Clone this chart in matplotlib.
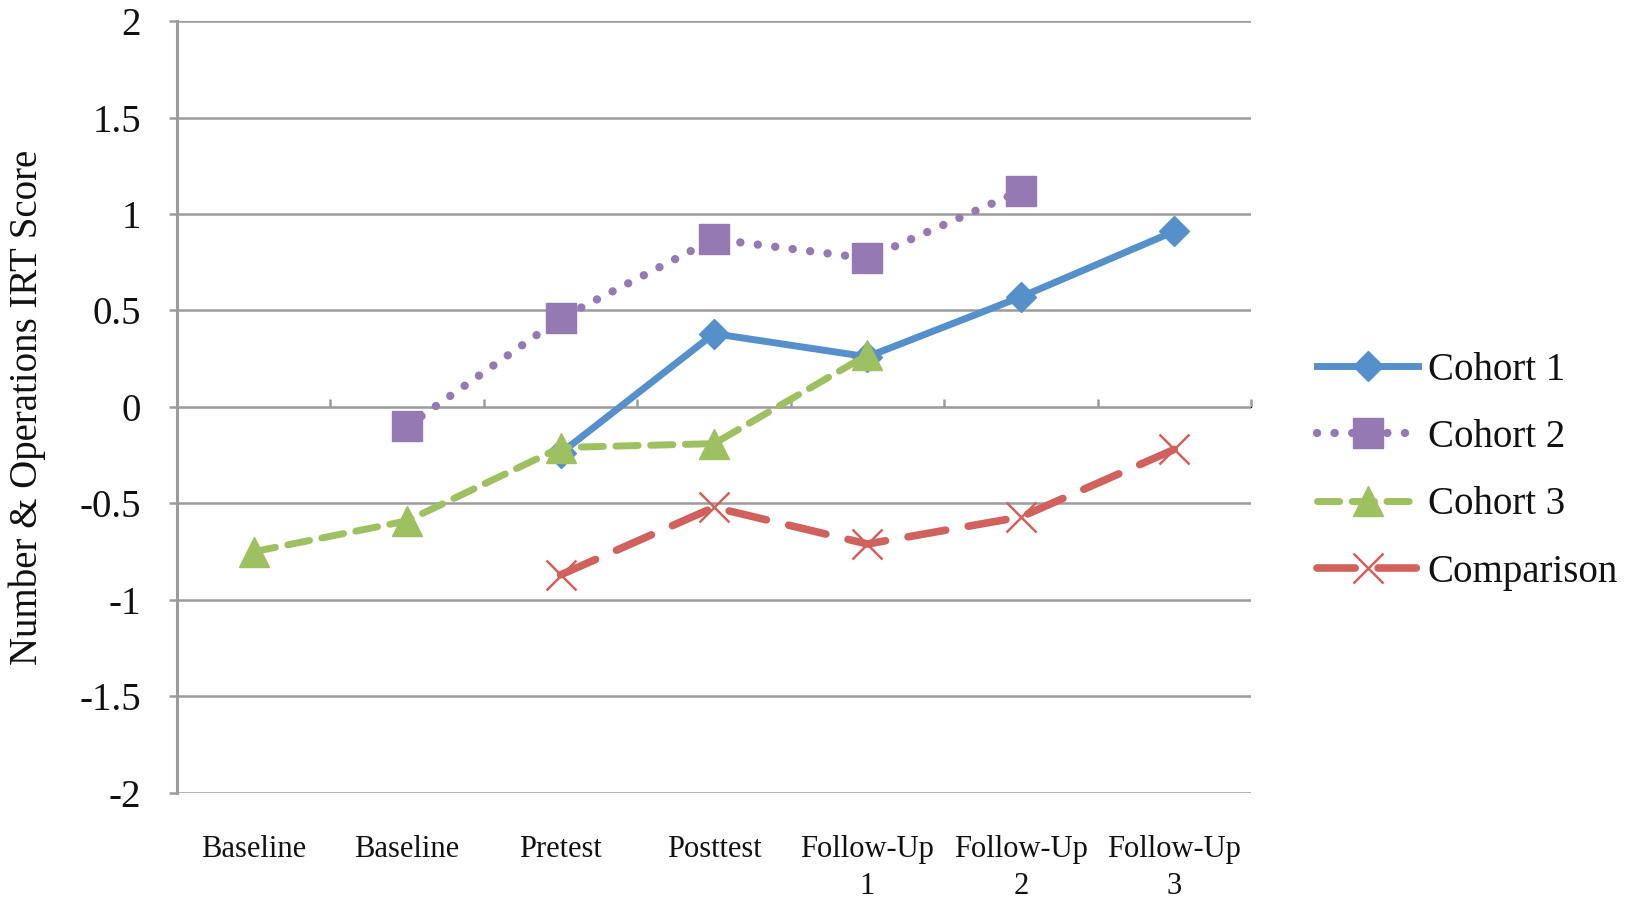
import matplotlib
matplotlib.use("Agg")
import matplotlib.pyplot as plt

plt.rcParams['font.family'] = ['Liberation Serif', 'DejaVu Serif']

# Time points and IRT scores per group (None = not measured)
timepoints = ["Baseline", "Baseline", "Pretest", "Posttest",
              "Follow-Up\n1", "Follow-Up\n2", "Follow-Up\n3"]
cohort1 = [None, None, -0.24, 0.38, 0.26, 0.57, 0.91]
cohort2 = [None, -0.10, 0.46, 0.87, 0.77, 1.12, None]
cohort3 = [-0.75, -0.59, -0.21, -0.19, 0.27, None, None]
comparison = [None, None, -0.87, -0.52, -0.71, -0.57, -0.22]
y_ticks = [-2, -1.5, -1, -0.5, 0, 0.5, 1, 1.5, 2]


def series(vals):
    xs = [i for i, v in enumerate(vals) if v is not None]
    ys = [v for v in vals if v is not None]
    return xs, ys


fig = plt.figure(figsize=(16.31, 8.99), dpi=100)
ax = fig.add_axes([0.1085, 0.118, 0.6585, 0.8586])

grid_col = '#9c9c9c'
ax.set_xlim(-0.5, len(timepoints) - 0.5)
ax.set_ylim(-2, 2)
ax.set_yticks(y_ticks)
ax.set_yticklabels([f"{t:g}" for t in y_ticks])
ax.yaxis.grid(True, color=grid_col, lw=1.8, zorder=0)
ax.set_axisbelow(True)
for s in ['top', 'right', 'bottom']:
    ax.spines[s].set_visible(False)
ax.spines['left'].set_color(grid_col)
ax.spines['left'].set_linewidth(2.2)
ax.tick_params(axis='y', length=6, width=1.8, color=grid_col,
               labelsize=28, pad=20, labelcolor='#111111')

ax.set_xticks(range(len(timepoints)))
ax.set_xticklabels(timepoints, linespacing=1.36)
ax.tick_params(axis='x', length=0, labelsize=22, pad=30, labelcolor='#111111')

# Category axis crossing at zero with ticks between categories
sec = ax.secondary_xaxis(0.5)
sec.set_xticks([i - 0.5 for i in range(len(timepoints) + 1)])
sec.set_xticklabels([])
sec.spines['bottom'].set_color(grid_col)
sec.spines['bottom'].set_linewidth(2.2)
sec.tick_params(axis='x', direction='out', length=6, width=1.8, color=grid_col)

blue = '#5590cb'
purple = '#9479b2'
green = '#9dc060'
red = '#d0615c'

x, y = series(cohort1)
ax.plot(x, y, color=blue, lw=5, marker='D', ms=15, mec=blue,
        solid_joinstyle='round', label='Cohort 1', zorder=3)
x, y = series(cohort2)
ax.plot(x, y, color=purple, lw=6, ls=(0, (0.01, 2.1)), dash_capstyle='round',
        marker='s', ms=21, mec=purple, label='Cohort 2', zorder=3)
x, y = series(cohort3)
ax.plot(x, y, color=green, lw=5, ls=(0, (3.2, 1.8)), dash_capstyle='round',
        marker='^', ms=22, mec=green, label='Cohort 3', zorder=3)
x, y = series(comparison)
ax.plot(x, y, color=red, lw=5.5, ls=(0, (5, 3)), dash_capstyle='round',
        marker='x', ms=21, mew=1.8, mec=red, label='Comparison', zorder=3)

ax.set_ylabel("Number & Operations IRT Score", fontsize=28, color='#111111')
ax.yaxis.set_label_coords(-0.122, 0.5)

leg = fig.legend(loc='center left', bbox_to_anchor=(0.786, 0.476),
                 frameon=False, fontsize=28, handlelength=2.6,
                 handletextpad=0.25, labelspacing=0.78)
for t in leg.get_texts():
    t.set_color('#111111')

fig.savefig("out.png", dpi=100, facecolor='white')
